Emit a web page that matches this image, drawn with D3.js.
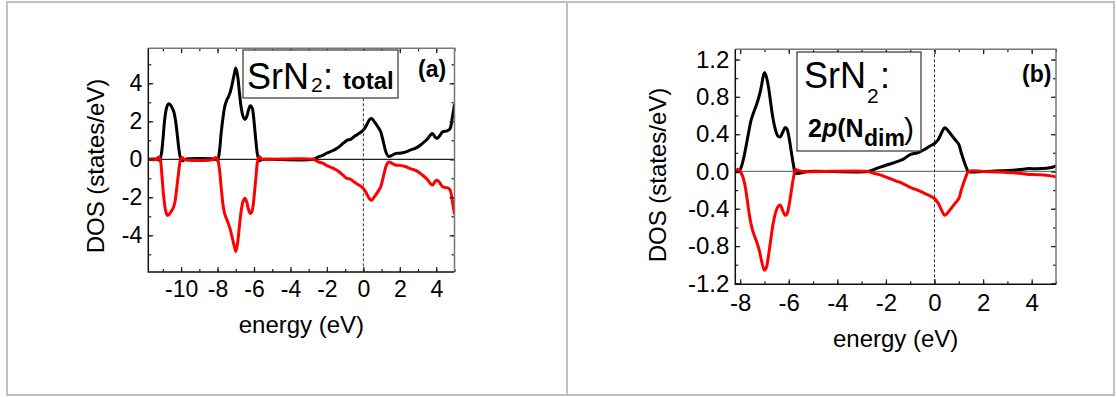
<!DOCTYPE html>
<html>
<head>
<meta charset="utf-8">
<script src="https://cdn.jsdelivr.net/npm/d3@7"></script>
<style>
  html, body { margin: 0; padding: 0; background: #fff; }
  svg { display: block; font-family: "Liberation Sans", Arial, sans-serif; }
</style>
</head>
<body>
<svg id="chart" width="1117" height="397"></svg>
<script>
// ---- data ----

// (a) total DOS, [energy eV, states/eV]
const totalUp = [
  [-11.8,0],[-11.3,0],[-11.2,-0.05],[-11.1,0.2],[-11.0,1.0],[-10.9,2.1],[-10.8,2.7],[-10.7,2.92],
  [-10.6,2.88],[-10.5,2.72],[-10.4,2.5],[-10.3,2.0],[-10.2,1.2],[-10.1,0.4],[-10.0,-0.02],[-9.9,-0.08],[-9.8,0],
  [-8.1,0],[-8.0,-0.05],[-7.9,0.4],[-7.8,1.4],[-7.7,2.2],[-7.6,2.8],[-7.5,3.1],[-7.4,3.3],[-7.3,3.55],
  [-7.2,3.95],[-7.1,4.4],[-7.0,4.8],[-6.9,4.4],[-6.8,3.5],[-6.7,2.7],[-6.6,2.25],[-6.5,2.1],[-6.4,2.25],
  [-6.3,2.6],[-6.2,2.82],[-6.1,2.7],[-6.0,2.0],[-5.9,1.0],[-5.8,0.2],[-5.7,-0.08],[-5.6,-0.03],[-5.4,0],
  [-2.75,0],[-2.5,0.12],[-2.2,0.22],[-2.0,0.33],[-1.7,0.45],[-1.5,0.55],[-1.3,0.68],[-1.1,0.85],[-0.9,1.0],
  [-0.7,1.05],[-0.5,1.2],[-0.3,1.32],[-0.1,1.45],[0.05,1.6],[0.2,1.85],[0.35,2.1],[0.45,2.15],[0.6,1.98],
  [0.8,1.7],[0.95,1.45],[1.05,1.1],[1.15,0.7],[1.25,0.35],[1.38,0.15],[1.55,0.2],[1.75,0.3],[2.0,0.32],
  [2.3,0.38],[2.6,0.5],[2.9,0.6],[3.2,0.8],[3.5,1.05],[3.7,1.3],[3.8,1.35],[3.95,1.15],[4.05,1.1],
  [4.2,1.25],[4.35,1.45],[4.6,1.5],[4.75,1.6],[4.88,2.2],[5.0,2.9]
];
const totalDown = [
  [-11.8,0],[-11.35,0],[-11.25,0.12],[-11.15,0],[-11.05,-0.9],[-10.95,-2.0],[-10.85,-2.7],[-10.75,-2.95],
  [-10.65,-2.9],[-10.55,-2.75],[-10.45,-2.6],[-10.35,-2.3],[-10.25,-1.6],[-10.15,-0.8],[-10.05,-0.1],[-9.95,0.1],[-9.85,0],
  [-8.2,0],[-8.1,0.1],[-8.0,0],[-7.9,-0.5],[-7.8,-1.5],[-7.7,-2.4],[-7.6,-2.9],[-7.5,-3.15],[-7.4,-3.4],
  [-7.3,-3.7],[-7.2,-4.1],[-7.1,-4.5],[-7.0,-4.85],[-6.9,-4.4],[-6.8,-3.5],[-6.7,-2.7],[-6.6,-2.2],[-6.5,-2.05],
  [-6.4,-2.25],[-6.3,-2.65],[-6.2,-2.85],[-6.1,-2.7],[-6.0,-2.0],[-5.9,-1.0],[-5.8,-0.1],[-5.7,0.15],[-5.6,0.02],[-5.4,0],
  [-2.75,0],[-2.5,-0.12],[-2.2,-0.22],[-2.0,-0.33],[-1.7,-0.45],[-1.5,-0.55],[-1.3,-0.68],[-1.1,-0.85],[-0.9,-1.0],
  [-0.7,-1.05],[-0.5,-1.2],[-0.3,-1.32],[-0.1,-1.45],[0.05,-1.6],[0.2,-1.85],[0.35,-2.1],[0.45,-2.15],[0.6,-1.98],
  [0.8,-1.7],[0.95,-1.45],[1.05,-1.1],[1.15,-0.7],[1.25,-0.35],[1.38,-0.15],[1.55,-0.2],[1.75,-0.3],[2.0,-0.32],
  [2.3,-0.38],[2.6,-0.5],[2.9,-0.6],[3.2,-0.8],[3.5,-1.05],[3.7,-1.3],[3.8,-1.35],[3.95,-1.15],[4.05,-1.1],
  [4.2,-1.25],[4.35,-1.45],[4.6,-1.5],[4.75,-1.6],[4.88,-2.2],[5.0,-2.9]
];

// (b) 2p of the N dimer
const ndimUp = [
  [-8.2,0],[-8.05,0],[-7.95,0.05],[-7.85,0.15],[-7.75,0.28],[-7.65,0.42],[-7.55,0.55],[-7.45,0.63],
  [-7.35,0.7],[-7.25,0.78],[-7.15,0.88],[-7.05,1.02],[-7.0,1.06],[-6.95,1.04],[-6.85,0.93],[-6.75,0.75],
  [-6.65,0.57],[-6.55,0.45],[-6.45,0.38],[-6.35,0.37],[-6.25,0.42],[-6.15,0.47],[-6.08,0.46],[-6.0,0.38],
  [-5.9,0.22],[-5.8,0.06],[-5.72,-0.02],[-5.6,-0.02],[-5.4,-0.01],[-5.2,0],
  [-2.75,0],[-2.5,0.02],[-2.2,0.05],[-1.9,0.075],[-1.6,0.1],[-1.3,0.13],[-1.0,0.18],[-0.7,0.2],[-0.45,0.23],
  [-0.2,0.27],[0.0,0.3],[0.15,0.34],[0.3,0.42],[0.42,0.47],[0.55,0.44],[0.7,0.39],[0.85,0.34],[1.0,0.29],
  [1.1,0.2],[1.2,0.12],[1.3,0.05],[1.4,0.0],[2.0,0.0],[2.5,0.005],[3.0,0.01],[3.5,0.02],[3.8,0.03],
  [4.2,0.03],[4.6,0.035],[4.85,0.045],[5.0,0.06]
];
const ndimDown = [
  [-8.2,0],[-8.1,0.02],[-8.0,0],[-7.9,-0.05],[-7.8,-0.15],[-7.7,-0.32],[-7.6,-0.5],[-7.5,-0.62],[-7.4,-0.7],
  [-7.3,-0.77],[-7.2,-0.86],[-7.1,-0.98],[-7.0,-1.06],[-6.92,-1.03],[-6.85,-0.93],[-6.75,-0.75],[-6.65,-0.57],
  [-6.55,-0.45],[-6.45,-0.38],[-6.35,-0.36],[-6.25,-0.42],[-6.15,-0.47],[-6.08,-0.46],[-6.0,-0.38],
  [-5.9,-0.22],[-5.8,-0.06],[-5.72,0.02],[-5.6,0.01],[-5.4,0],
  [-2.75,0],[-2.5,-0.02],[-2.2,-0.04],[-1.9,-0.07],[-1.6,-0.1],[-1.3,-0.13],[-1.0,-0.17],[-0.7,-0.2],
  [-0.45,-0.23],[-0.2,-0.26],[0.0,-0.29],[0.15,-0.34],[0.3,-0.42],[0.42,-0.47],[0.55,-0.44],[0.7,-0.39],
  [0.85,-0.34],[1.0,-0.29],[1.1,-0.2],[1.2,-0.12],[1.3,-0.05],[1.4,0.0],[2.0,0.0],[2.5,-0.005],[3.0,-0.01],
  [3.5,-0.02],[3.8,-0.03],[4.2,-0.035],[4.6,-0.04],[4.85,-0.05],[5.0,-0.06]
];

// ticks
const xTicksA = [-10, -8, -6, -4, -2, 0, 2, 4];
const yTicksA = [-4, -2, 0, 2, 4];
const xTicksB = [-8, -6, -4, -2, 0, 2, 4];
const yTicksB = [-1.2, -0.8, -0.4, 0.0, 0.4, 0.8, 1.2];

const FONT = "\"Liberation Sans\", Arial, sans-serif";

const svg = d3.select("#chart");

// table-like cell borders
svg.append("rect")
  .attr("x", 7).attr("y", 2).attr("width", 1107).attr("height", 393)
  .attr("fill", "none").attr("stroke", "#c0c0c0").attr("stroke-width", 2);
svg.append("line")
  .attr("x1", 567).attr("x2", 567).attr("y1", 2).attr("y2", 395)
  .attr("stroke", "#c0c0c0").attr("stroke-width", 2);

function drawPanel(p) {
  const x = d3.scaleLinear().domain(p.xDomain).range([p.left, p.right]);
  const y = d3.scaleLinear().domain(p.yDomain).range([p.bottom, p.top]);
  const g = svg.append("g");

  const clipId = "clip-" + p.id;
  svg.append("clipPath").attr("id", clipId)
    .append("rect")
    .attr("x", p.left).attr("y", p.top)
    .attr("width", p.right - p.left).attr("height", p.bottom - p.top);

  // zero line + Fermi level
  g.append("line")
    .attr("x1", p.left).attr("x2", p.right)
    .attr("y1", y(0)).attr("y2", y(0))
    .attr("stroke", p.zeroColor).attr("stroke-width", 1.2);
  g.append("line")
    .attr("x1", x(0)).attr("x2", x(0))
    .attr("y1", p.top).attr("y2", p.bottom)
    .attr("stroke", "#333").attr("stroke-width", 1)
    .attr("stroke-dasharray", "3,2");

  // curves
  const line = d3.line()
    .x(d => x(d[0])).y(d => y(d[1]))
    .curve(d3.curveCatmullRom.alpha(0.5));
  const curves = g.append("g").attr("clip-path", `url(#${clipId})`);
  curves.append("path").datum(p.up)
    .attr("d", line).attr("fill", "none")
    .attr("stroke", "#000").attr("stroke-width", 3).attr("stroke-linejoin", "round");
  curves.append("path").datum(p.down)
    .attr("d", line).attr("fill", "none")
    .attr("stroke", "#ff0000").attr("stroke-width", 3).attr("stroke-linejoin", "round");

  // ticks (inside, all four sides)
  const xMinor = d3.range(Math.ceil(p.xDomain[0]), p.xDomain[1] + 0.001, 1);
  const yMinor = d3.range(Math.ceil(p.yDomain[0] / p.yMinorStep) * p.yMinorStep,
                          p.yDomain[1] + 1e-6, p.yMinorStep);

  const addAxis = (axis, tx, ty) => {
    const a = g.append("g").attr("transform", `translate(${tx},${ty})`).call(axis);
    a.select(".domain").remove();
    a.selectAll("line").attr("stroke", "#222").attr("stroke-width", 1.2);
    a.selectAll("text").attr("font-family", FONT).attr("font-size", p.tickFont).attr("fill", "#000");
    return a;
  };

  addAxis(d3.axisBottom(x).tickValues(xMinor).tickSize(-3).tickFormat(""), 0, p.bottom);
  addAxis(d3.axisTop(x).tickValues(xMinor).tickSize(-3).tickFormat(""), 0, p.top);
  addAxis(d3.axisLeft(y).tickValues(yMinor).tickSize(-3).tickFormat(""), p.left, 0);
  addAxis(d3.axisRight(y).tickValues(yMinor).tickSize(-3).tickFormat(""), p.right, 0);

  addAxis(d3.axisBottom(x).tickValues(p.xTicks).tickSize(-5).tickPadding(p.xPad)
    .tickFormat(d => String(d)), 0, p.bottom);
  addAxis(d3.axisTop(x).tickValues(p.xTicks).tickSize(-5).tickFormat(""), 0, p.top);
  addAxis(d3.axisLeft(y).tickValues(p.yTicks).tickSize(-5).tickPadding(p.yPad)
    .tickFormat(p.yFormat), p.left, 0);
  addAxis(d3.axisRight(y).tickValues(p.yTicks).tickSize(-5).tickFormat(""), p.right, 0);

  // frame
  g.append("path")
    .attr("d", `M${p.left},${p.top}L${p.right},${p.top}L${p.right},${p.bottom}`)
    .attr("fill", "none").attr("stroke", "#777").attr("stroke-width", 1.5);
  g.append("path")
    .attr("d", `M${p.left},${p.top}L${p.left},${p.bottom}L${p.right},${p.bottom}`)
    .attr("fill", "none").attr("stroke", "#111").attr("stroke-width", 1.5);

  // axis titles
  g.append("text")
    .attr("x", (p.left + p.right) / 2).attr("y", p.xTitleY)
    .attr("text-anchor", "middle").attr("font-family", FONT).attr("font-size", 24)
    .text("energy (eV)");
  g.append("text")
    .attr("transform", `translate(${p.yTitleX},${p.yTitleY}) rotate(-90)`)
    .attr("text-anchor", "middle").attr("font-family", FONT).attr("font-size", 24)
    .text("DOS (states/eV)");

  return g;
}

// (a)
const gA = drawPanel({
  id: "a", left: 148.3, right: 454.5, top: 48.3, bottom: 272,
  xDomain: [-11.8, 5], yDomain: [-5.93, 5.84], yMinorStep: 1,
  xTicks: xTicksA, yTicks: yTicksA, yFormat: d => String(d),
  up: totalUp, down: totalDown, zeroColor: "#222",
  tickFont: 23, xPad: 9, yPad: 6,
  xTitleY: 333, yTitleX: 103.5, yTitleY: 166
});

gA.append("rect").attr("x", 243).attr("y", 50).attr("width", 155).attr("height", 48)
  .attr("fill", "#fff").attr("stroke", "#333").attr("stroke-width", 1.2);
gA.append("text").attr("x", 247).attr("y", 89).attr("font-family", FONT).attr("font-size", 36).text("SrN");
gA.append("text").attr("x", 311).attr("y", 92).attr("font-family", FONT).attr("font-size", 21).text("2");
gA.append("text").attr("x", 323).attr("y", 89).attr("font-family", FONT).attr("font-size", 36).text(":");
gA.append("text").attr("x", 343).attr("y", 89).attr("font-family", FONT).attr("font-size", 24)
  .attr("font-weight", "bold").text("total");
gA.append("text").attr("x", 418).attr("y", 77).attr("font-family", FONT).attr("font-size", 23)
  .attr("font-weight", "bold").text("(a)");

// (b)
const gB = drawPanel({
  id: "b", left: 735.3, right: 1056, top: 49.3, bottom: 284.3,
  xDomain: [-8.2, 5], yDomain: [-1.21, 1.31], yMinorStep: 0.2,
  xTicks: xTicksB, yTicks: yTicksB, yFormat: d => d.toFixed(1),
  up: ndimUp, down: ndimDown, zeroColor: "#777",
  tickFont: 24, xPad: 10, yPad: 6,
  xTitleY: 347, yTitleX: 666, yTitleY: 175
});

gB.append("rect").attr("x", 797).attr("y", 52).attr("width", 124).attr("height", 99)
  .attr("fill", "#fff").attr("stroke", "#333").attr("stroke-width", 1.2);
gB.append("text").attr("x", 804).attr("y", 88).attr("font-family", FONT).attr("font-size", 36).text("SrN");
gB.append("text").attr("x", 867).attr("y", 103).attr("font-family", FONT).attr("font-size", 21).text("2");
gB.append("text").attr("x", 880).attr("y", 88).attr("font-family", FONT).attr("font-size", 36).text(":");
const l2 = gB.append("text").attr("x", 808).attr("y", 137).attr("font-family", FONT)
  .attr("font-size", 25).attr("font-weight", "bold");
l2.append("tspan").text("2");
l2.append("tspan").attr("font-style", "italic").text("p");
l2.append("tspan").text("(N");
gB.append("text").attr("x", 864).attr("y", 146).attr("font-family", FONT).attr("font-size", 23)
  .attr("font-weight", "bold").text("dim");
gB.append("text").attr("x", 904).attr("y", 139).attr("font-family", FONT).attr("font-size", 30).text(")");
gB.append("text").attr("x", 1022).attr("y", 82).attr("font-family", FONT).attr("font-size", 23)
  .attr("font-weight", "bold").text("(b)");
</script>
</body>
</html>
